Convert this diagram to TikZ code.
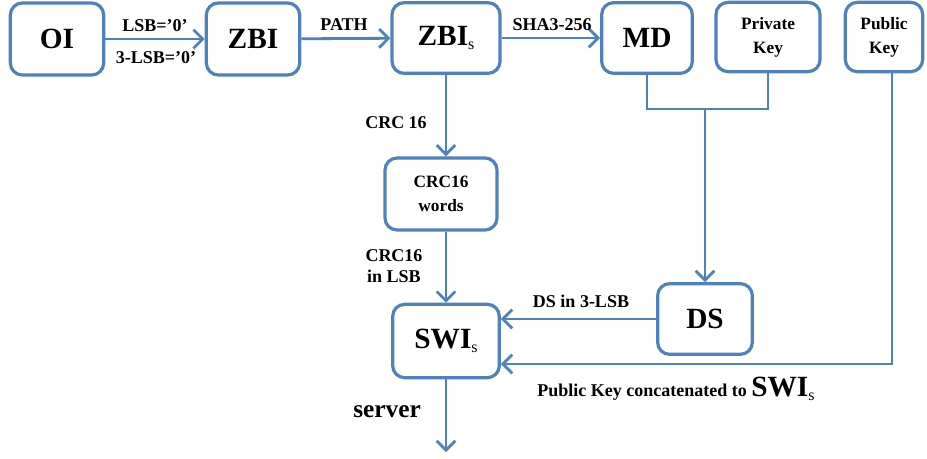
\documentclass[tikz,border=0pt]{standalone}
\usepackage{fontspec}
\setmainfont{Liberation Serif}
\usetikzlibrary{arrows.meta}
\definecolor{flowblue}{HTML}{4F81BD}
\newcommand{\subs}{\raisebox{-0.35ex}{\mdseries\fontsize{12}{12}\selectfont s}}

\begin{document}
\begin{tikzpicture}[x=0.75pt,y=-0.75pt,
	box/.style={draw=flowblue,line width=2.4pt,rounded corners=9pt,align=center,inner sep=0pt,
		font=\bfseries\fontsize{22}{24}\selectfont},
	keybox/.style={box,font=\bfseries\fontsize{13}{18}\selectfont},
	flow/.style={draw=flowblue,line width=2.1pt},
	link/.style={flow,-{Straight Barb[length=7pt,width=14pt,line width=2.1pt]}},
	lbl/.style={font=\bfseries\fontsize{13.5}{16}\selectfont,align=center}]
		\useasboundingbox (0,0) rectangle (927,458);

		% top row
		\node[box,minimum width=70pt,minimum height=54pt] (oi) at (57,39) {OI};
		\node[box,minimum width=70pt,minimum height=54pt] (zbi) at (253,39) {ZBI};
		\node[box,minimum width=81pt,minimum height=53pt] (zbis) at (446,38) {ZBI\subs};
		\node[box,minimum width=68pt,minimum height=53pt] (md) at (647,38) {MD};
		\node[keybox,minimum width=78pt,minimum height=52pt] (priv) at (768,37) {Private\\Key};
		\node[keybox,minimum width=58pt,minimum height=52pt] (pub) at (884,37) {Public\\Key};

		% middle and bottom
		\node[keybox,minimum width=84pt,minimum height=54pt] (crc) at (441,194) {CRC16\\words};
		\node[box,minimum width=80pt,minimum height=55pt] (swi) at (446,341) {SWI\subs};
		\node[box,minimum width=71pt,minimum height=53pt] (ds) at (705,319) {DS};

		\coordinate (join) at (705,109);
		\coordinate (pubdrop) at (892,364);
		\coordinate (out) at (446,452);

		% arrows
		\draw[link] (oi) -- (zbi);
		\node[lbl] (lsb) at (155,26) {LSB=’0’};
		\node[lbl] (lsbthree) at (156,58) {3-LSB=’0’};

		\draw[link] (zbi) -- (zbis);
		\node[lbl] (path) at (344,25) {PATH};

		\draw[link] (zbis) -- (md);
		\node[lbl] (sha) at (552,25) {SHA3-256};

		\draw[link] (zbis.south) -- (zbis.south |- crc.north);
		\node[lbl] (crclbl) at (396,123) {CRC 16};

		\draw[link] (crc.south -| swi.north) -- (swi.north);
		\node[lbl] (crclsb) at (394,266) {CRC16\\in LSB};

		% signing
		\draw[flow] (md.south) -- (md.south |- join) -- (priv.south |- join) -- (priv.south);
		\draw[link] (join) -- (ds.north);
		\draw[link] (ds.west) -- (ds.west -| swi.east);
		\node[lbl] (dslbl) at (581,301) {DS in 3-LSB};

		\draw[link] (pub.south -| pubdrop) -- (pubdrop) -- (pubdrop -| swi.east);
		\node[lbl] (publbl) at (676,389) {Public Key concatenated to {\fontsize{22}{24}\selectfont SWI\subs}};

		\draw[link] (swi.south) -- (out);
		\node[font=\bfseries\fontsize{19}{21}\selectfont] (server) at (387,412) {server};
	\end{tikzpicture}
\end{document}
